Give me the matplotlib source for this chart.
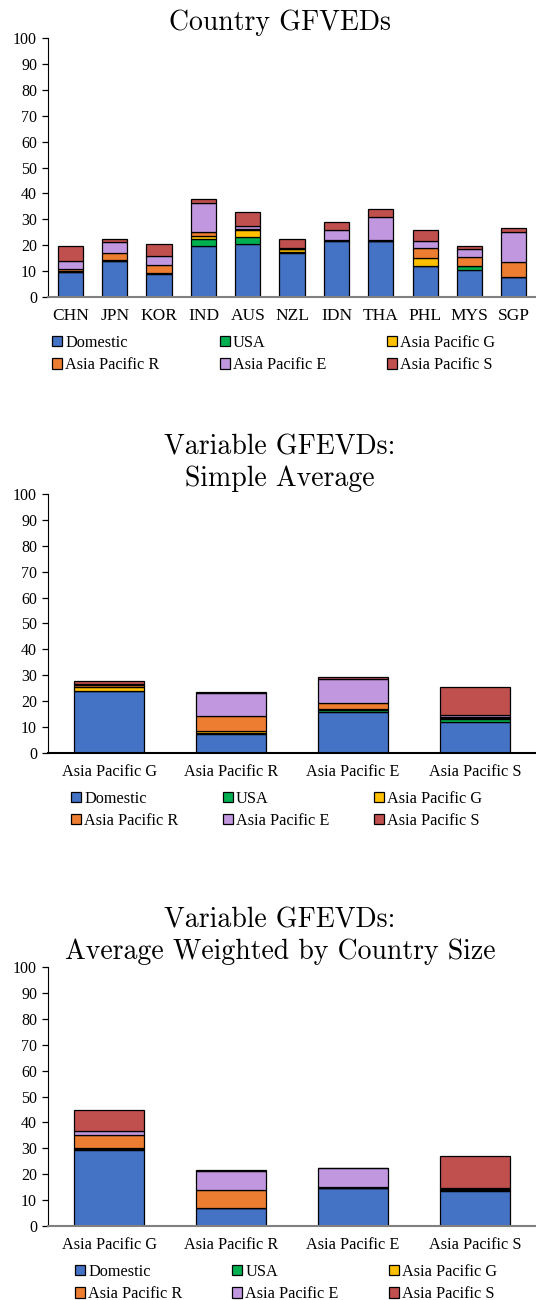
import matplotlib
matplotlib.use("Agg")
import matplotlib.pyplot as plt
import numpy as np

plt.rcParams["font.family"] = ["Liberation Serif", "DejaVu Serif"]

series = ["Domestic", "USA", "Asia Pacific G", "Asia Pacific R",
          "Asia Pacific E", "Asia Pacific S"]
colors = ["#4472C4", "#00B050", "#FFC000", "#ED7D31", "#C197DF", "#C0504D"]

# Panel 1: country GFEVDs
countries = ["CHN", "JPN", "KOR", "IND", "AUS", "NZL", "IDN", "THA", "PHL", "MYS", "SGP"]
c_domestic = [9.5, 14.0, 9.0, 19.9, 20.3, 17.2, 21.7, 21.6, 12.0, 10.6, 7.6]
c_usa      = [0.2, 0.1, 0.1, 2.6, 3.0, 0.1, 0.1, 0.1, 0.1, 1.2, 0.1]
c_apg      = [0.3, 0.1, 0.1, 1.1, 2.6, 1.2, 0.1, 0.1, 2.8, 0.2, 0.1]
c_apr      = [1.0, 2.7, 3.3, 1.6, 0.4, 0.2, 0.1, 0.1, 4.2, 3.4, 5.9]
c_ape      = [2.8, 4.4, 3.4, 11.0, 1.0, 0.1, 3.9, 9.0, 2.7, 3.2, 11.5]
c_aps      = [6.0, 1.3, 4.4, 1.7, 5.4, 3.8, 2.9, 3.2, 4.0, 1.3, 1.4]

# Panel 2: variable GFEVDs, simple average
variables = ["Asia Pacific G", "Asia Pacific R", "Asia Pacific E", "Asia Pacific S"]
s_domestic = [23.9, 7.4, 15.9, 12.1]
s_usa      = [0.2, 0.3, 0.8, 1.0]
s_apg      = [1.4, 0.8, 0.3, 0.4]
s_apr      = [0.6, 5.6, 2.4, 0.5]
s_ape      = [0.5, 9.2, 9.0, 0.5]
s_aps      = [1.0, 0.1, 1.1, 10.9]

# Panel 3: variable GFEVDs, weighted by country size
w_domestic = [29.5, 6.8, 14.6, 13.5]
w_usa      = [0.3, 0.1, 0.1, 0.6]
w_apg      = [0.3, 0.1, 0.1, 0.2]
w_apr      = [5.0, 6.8, 0.1, 0.2]
w_ape      = [1.5, 7.6, 7.5, 0.2]
w_aps      = [8.3, 0.1, 0.1, 12.5]


def stacked(ax, cats, cols, title, base_color, tick_size):
    x = np.arange(len(cats))
    bottom = np.zeros(len(cats))
    for name, vals, col in zip(series, cols, colors):
        ax.bar(x, vals, 0.57, bottom=bottom, color=col, edgecolor="black",
               linewidth=0.9, label=name)
        bottom += np.array(vals)
    ax.set_xlim(-0.5, len(cats) - 0.5)
    ax.set_ylim(0, 100)
    ax.set_yticks(range(0, 101, 10))
    ax.set_xticks(x)
    ax.set_xticklabels(cats, fontsize=tick_size)
    ax.tick_params(axis="x", length=0, pad=8)
    ax.tick_params(axis="y", labelsize=11.5, length=4, width=0.9,
                   direction="out", pad=4)
    ax.spines["top"].set_visible(False)
    ax.spines["right"].set_visible(False)
    ax.spines["bottom"].set_color(base_color)
    ax.spines["bottom"].set_linewidth(1.5)
    t = ax.set_title(title, family="cmr10", fontsize=20, pad=6, linespacing=1.25)
    t.set_x(0.475)
    return ax


def legend_below(ax, x0, width):
    # Excel-style: row-wise order, so reorder for matplotlib's column filling
    h, l = ax.get_legend_handles_labels()
    order = [0, 3, 1, 4, 2, 5]
    ax.legend([h[i] for i in order], [l[i] for i in order],
              loc="upper left", bbox_to_anchor=(x0, -0.21, width, 0.065),
              mode="expand", ncol=3, frameon=False, fontsize=11.7,
              handlelength=0.6, handleheight=0.6, handletextpad=0.2,
              borderaxespad=0, borderpad=0, labelspacing=0.4)


fig = plt.figure(figsize=(5.36, 13.0), dpi=100)

ax1 = fig.add_axes([0.09, 0.7715, 0.91, 0.1992])
stacked(ax1, countries,
        [c_domestic, c_usa, c_apg, c_apr, c_ape, c_aps],
        "Country GFVEDs", "#808080", 12.5)
legend_below(ax1, 0.008, 0.908)

ax2 = fig.add_axes([0.09, 0.4208, 0.91, 0.1992])
stacked(ax2, variables,
        [s_domestic, s_usa, s_apg, s_apr, s_ape, s_aps],
        "Variable GFEVDs:\nSimple Average", "black", 11.7)
legend_below(ax2, 0.047, 0.842)

ax3 = fig.add_axes([0.09, 0.0569, 0.91, 0.1992])
stacked(ax3, variables,
        [w_domestic, w_usa, w_apg, w_apr, w_ape, w_aps],
        "Variable GFEVDs:\nAverage Weighted by Country Size", "#808080", 11.7)
legend_below(ax3, 0.055, 0.865)

fig.savefig("out.png", dpi=100)
